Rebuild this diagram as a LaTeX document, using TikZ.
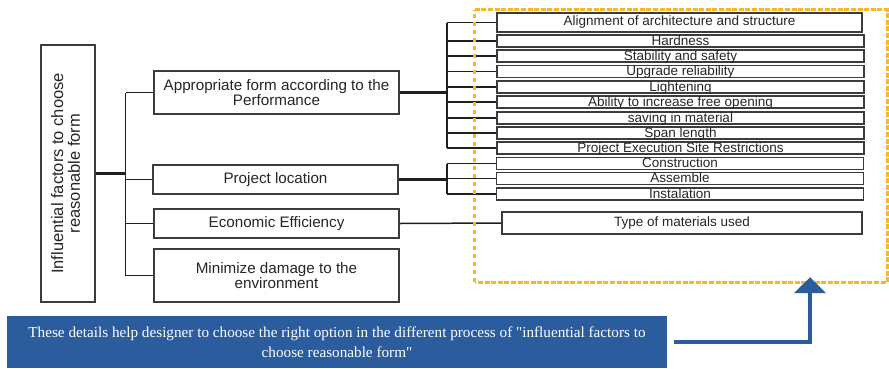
\documentclass[tikz,border=0pt]{standalone}
\usepackage{fontspec}
\setmainfont{Liberation Sans}
\newfontfamily\notefont{Liberation Serif}
\usetikzlibrary{arrows.meta}
\definecolor{frameyellow}{HTML}{F9B823}
\definecolor{noteblue}{HTML}{2B5C9E}
\definecolor{edgegray}{HTML}{3C3C3C}
\begin{document}
\begin{tikzpicture}[x=1pt,y=-1pt,
  box/.style={draw=edgegray, line width=1.1pt, fill=white, inner sep=0pt, align=center, text=black!85},
  mainbox/.style={box, minimum width=245pt, font=\fontsize{15.2pt}{15pt}\selectfont},
  subbox/.style={box, minimum width=367pt, minimum height=12pt, text height=9.5pt, text depth=1pt,
    font=\fontsize{13.5pt}{13pt}\selectfont},
  link/.style={draw=black!88, line width=1.5pt},
  trunk/.style={draw=black!88, line width=2.2pt},
  hilite/.style={draw=frameyellow, line width=3pt, line cap=butt},
  note/.style={fill=noteblue, text=white, inner sep=0pt, align=center,
    font=\notefont\fontsize{15.2pt}{20.5pt}\selectfont},
  bigarrow/.style={draw=noteblue, line width=4.5pt, -{Triangle[width=31pt,length=16pt]}}]
\useasboundingbox (0,0) rectangle (889,368);

% root
\node[box, minimum width=54pt, minimum height=257pt] (root) at (68,173.5)
  {\rotatebox{90}{\fontsize{16.5pt}{16.5pt}\selectfont\begin{tabular}{@{}c@{}}Influential factors to choose\\reasonable form\end{tabular}}};

% first level
\node[mainbox, minimum height=43pt] (a1) at (276.5,92.5) {Appropriate form according to the\\Performance};
\node[mainbox, minimum height=29pt] (a2) at (275.5,179.5) {Project location};
\node[mainbox, minimum height=29pt] (a3) at (276.5,223.5) {Economic Efficiency};
\node[mainbox, minimum height=53pt] (a4) at (276.5,275.5) {Minimize damage to the\\environment};

% second level
\node[box, minimum width=365pt, minimum height=19pt, font=\fontsize{13.5pt}{13.5pt}\selectfont] (r1) at (679.5,22.5) {Alignment of architecture and structure};
\node[subbox] (r2) at (680.5,41) {Hardness};
\node[subbox] (r3) at (680.5,56) {Stability and safety};
\node[subbox] (r4) at (680.5,71.5) {Upgrade reliability};
\node[subbox] (r5) at (680.5,87) {Lightening};
\node[subbox] (r6) at (680.5,102) {Ability to increase free opening};
\node[subbox] (r7) at (680.5,118) {saving in material};
\node[subbox] (r8) at (680.5,133) {Span length};
\node[subbox] (r9) at (680.5,148) {Project Execution Site Restrictions};
\node[subbox] (p1) at (680,163.5) {Construction};
\node[subbox] (p2) at (680,178.5) {Assemble};
\node[subbox] (p3) at (680,194) {Instalation};
\node[box, minimum width=360pt, minimum height=22pt, font=\fontsize{13.5pt}{13pt}\selectfont] (e1) at (682,223) {Type of materials used};

% left tree
\draw[trunk] (root.east) -- ++(30,0) coordinate (jl);
\draw[link] (a1.west -| jl) -- (a4.west -| jl);
\foreach \n in {a1,a2,a3,a4} \draw[link] (\n.west) -- (\n.west -| jl);

% right trees
\coordinate (jr) at (447,0);
\draw[trunk] (a1.east) -- (a1.east -| jr);
\draw[link] (r1.west -| jr) -- (r9.west -| jr);
\foreach \n in {r1,r2,r3,r4,r5,r6,r7,r8,r9} \draw[link] (\n.west -| jr) -- (\n.west);
\draw[trunk] (a2.east) -- (a2.east -| jr);
\draw[link] (p1.west -| jr) -- (p3.west -| jr);
\foreach \n in {p1,p2,p3} \draw[link] (\n.west -| jr) -- (\n.west);
\draw[link] (a3.east) -- (e1.west);

% highlighted group: dashed top, right and bottom, dotted left side
\node[inner sep=0pt, minimum width=412pt, minimum height=272pt] (frame) at (681,146) {};
\draw[hilite, dash pattern=on 5pt off 1.6pt] (frame.north west) -- (frame.north east) -- (frame.south east) -- (frame.south west);
\draw[hilite, dash pattern=on 4.5pt off 3.5pt] (frame.south west) -- (frame.north west);

% note and arrow
\node[note, minimum width=660pt, minimum height=52pt] (note) at (337,342)
  {These details help designer to choose the right option in the different process of "influential factors to\\choose reasonable form"};
\draw[bigarrow] ([xshift=7pt]note.east) -| ([xshift=129pt,yshift=5pt]frame.south);
\end{tikzpicture}
\end{document}
